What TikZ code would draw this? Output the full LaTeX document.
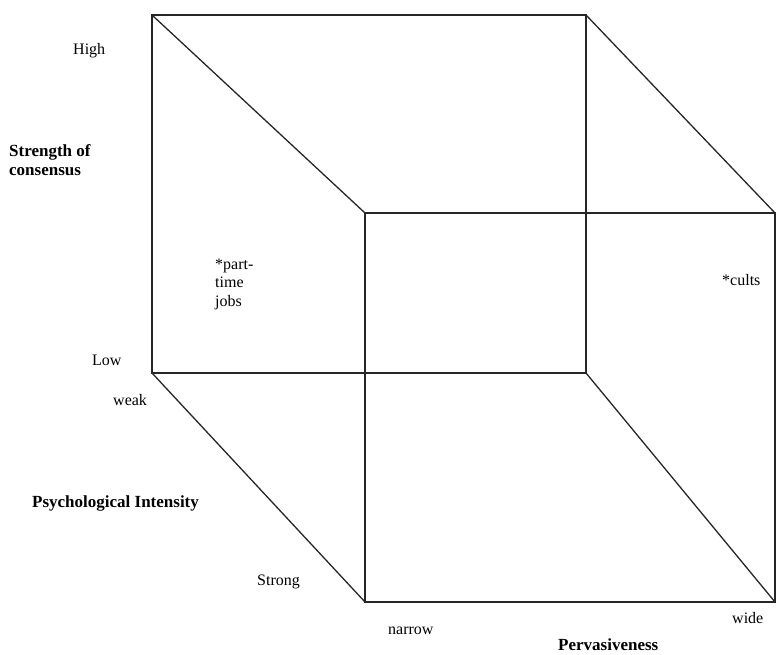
\documentclass[tikz,border=0pt]{standalone}
\usepackage{fontspec}
\setmainfont{Liberation Serif}
\begin{document}
\begin{tikzpicture}[x=1pt,y=-1pt,
  edge/.style={line width=1.3pt, black!85, line join=miter},
  lbl/.style={anchor=base west, inner sep=0pt, font=\fontsize{16}{19}\selectfont},
  axis/.style={lbl, font=\fontsize{17}{19.5}\selectfont\bfseries, align=left}]
\useasboundingbox (0,0) rectangle (776,655);

% corners of the rear face
\coordinate (btl) at (152,15);
\coordinate (btr) at (586,15);
\coordinate (bbr) at (586,373);
\coordinate (bbl) at (152,373);
% corners of the front face
\coordinate (ftl) at (365,213);
\coordinate (ftr) at (775,213);
\coordinate (fbr) at (775,602);
\coordinate (fbl) at (365,602);

% faces and receding edges
\draw[edge] (btl) -- (btr) -- (bbr) -- (bbl) -- cycle;
\draw[edge] (ftl) -- (ftr) -- (fbr) -- (fbl) -- cycle;
\draw[edge] (btl) -- (ftl);
\draw[edge] (btr) -- (ftr);
\draw[edge] (bbl) -- (fbl);
\draw[edge] (bbr) -- (fbr);

% vertical axis
\node[lbl] (high) at (73,55) {High};
\node[axis] (cons) at (9,176) {Strength of\\consensus};
\node[lbl] (low) at (92,365) {Low};

% depth axis
\node[lbl] (weak) at (113,405) {weak};
\node[axis] (psy) at (32,507) {Psychological Intensity};
\node[lbl] (strong) at (257,585) {Strong};

% horizontal axis
\node[lbl] (narrow) at (388,634) {narrow};
\node[lbl] (wide) at (732,623) {wide};
\node[axis] (perv) at (558,650) {Pervasiveness};

% examples placed in the space
\node[lbl, align=left, font=\fontsize{16}{18.5}\selectfont] (jobs) at (215,306) {*part-\\time\\jobs};
\node[lbl] (cults) at (722,285) {*cults};
\end{tikzpicture}
\end{document}
